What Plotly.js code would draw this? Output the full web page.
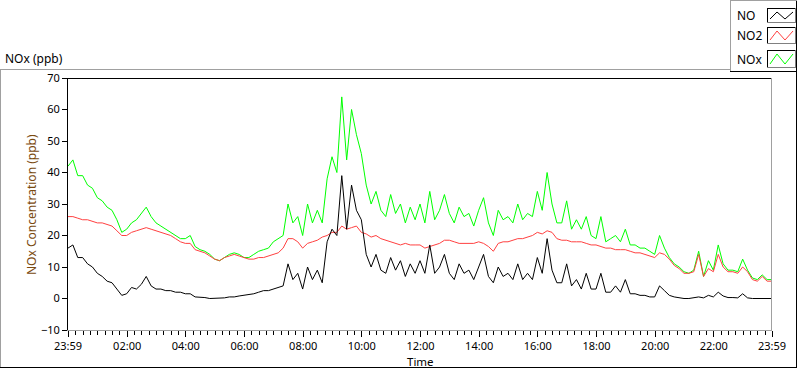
<!DOCTYPE html>
<html>
<head>
<meta charset="utf-8">
<script src="https://cdn.plot.ly/plotly-3.0.1.min.js"></script>
<style>
html,body{margin:0;padding:0;background:#fff;}
#chart{width:800px;height:369px;}
</style>
</head>
<body>
<div id="chart"></div>
<script>
// ---- data (10-minute samples starting at 23:59) ----
const sampleStepMinutes = 10;
const tickLabels = ["23:59","02:00","04:00","06:00","08:00","10:00","12:00","14:00","16:00","18:00","20:00","22:00","23:59"];
const tickMinutes = [0,121,241,361,481,601,721,841,961,1081,1201,1321,1440];

const noValues = [
  16,17,13,13,11,10,8,7,5.5,5,3,1,1.5,3.5,3,4.5,7,4,3,3,2.5,2.5,2,2,1.5,
  1.5,0.5,0.5,0.3,0,0,0,0.2,0.5,0.5,0.8,1,1.2,1.5,2,2.5,2.5,3,3.5,4,11,6,8,3,
  10,6,9,5,18,22,20,39,22,36,28,25,14,10,14,9,8,13,9,12,7,11,8,12,
  8,17,8,10,14,8,6,11,8,9,6,10,14,7,5,10,7,8,6,11,6,8,6,13,
  8,19,9,5,5,11,4,6,3,8,3,3,8,2,2,4,2,6,1.5,1.5,1,1,0.5,0.5,
  4,2.5,1,0.5,0.2,0,0,0.2,0.5,0.2,1,0.5,2,0.8,0.3,0.3,0.2,1.5,0.2,0,0,0.2,0,0
];
const no2Values = [
  26,26,25.5,25,25,24.5,24,24,23.5,23,21.5,20,20,21,21.5,22,22.5,22,21.5,21,20.5,20,19,18,17.5,
  17.5,15.5,15,14.5,13.5,12.5,12,13,13.5,14,13.5,13,12.5,12.5,13,13,13.5,14,14.5,16,19,19,18,16,
  17.5,18,18.5,19.5,20,21,21,23,22,22.5,23,21,20.5,19.5,20,19,18.5,18,17.5,17,17.5,17,17,17,
  16,16.5,17,17.5,18.5,18.5,18,17.5,17.5,17.5,17.5,18,17.5,16.5,15,17.5,18,18,18.5,19,19,19.5,20,21,
  20.5,21.5,21,19,18.5,18.5,18,18,18,17.5,17,17,16.5,16,16,15.5,15.5,15.5,15,14.5,14.5,14,13.5,13,
  14.5,14,12.5,10.5,9.5,8,8,8.5,14,7,9.5,8.5,14,10,8.5,8.5,8,10,8.5,6,5.5,7,5.5,5.5
];
const noxValues = [
  42,44,39,39,36,35,32,31,29,28,25,21,22,24,25,27,29,26,24,23,22,21,20,19,19,
  20,16.5,15.5,15,14,12.5,12,13,14,14.5,14,13,13,14,15,15.5,16,18,19,20,30,24,26,20,
  30,24,28,24,38,45,40,64,44,60,52,46,36,30,34,28,26,33,27,30,24,29,25,30,
  24,34,25,28,33,27,24,29,26,27,23,28,32,24,20,28,25,26,24,30,25,27,26,34,
  28,40,30,24,24,31,22,25,22,26,20,19,26,18,19,20,18,22,17,17,16,16,15,14,
  20,16,13,11,10,8.5,8,9,15,7,12,9,17,11,9,9,8.5,12.5,9,6.5,6,7.5,6,6
];
const seriesNames = ["NO","NO2","NOx"];
const seriesColors = ["#000000","#ff4040","#00ff00"];

const minutes = noValues.map((_, i) => i * sampleStepMinutes);

// ---- pixel helpers for decorations (plot area: x 68..772, y 78..330) ----
const PL = 68, PR = 772, PT = 78, PB = 330;
const X = px => (px - PL) / (PR - PL);
const Y = py => (PB - py) / (PB - PT);
const FONT = "Noto Sans, Open Sans, sans-serif";

const traces = [
  {x: minutes, y: noxValues, name: seriesNames[2], type: "scatter", mode: "lines", line: {color: seriesColors[2], width: 1}},
  {x: minutes, y: no2Values, name: seriesNames[1], type: "scatter", mode: "lines", line: {color: seriesColors[1], width: 1}},
  {x: minutes, y: noValues, name: seriesNames[0], type: "scatter", mode: "lines", line: {color: seriesColors[0], width: 1}}
];

function hline(x0, x1, y, color) {
  return {type: "line", xref: "paper", yref: "paper", x0: X(x0), x1: X(x1), y0: Y(y), y1: Y(y), line: {color: color, width: 1}, layer: "above"};
}
function vline(x, y0, y1, color) {
  return {type: "line", xref: "paper", yref: "paper", x0: X(x), x1: X(x), y0: Y(y0), y1: Y(y1), line: {color: color, width: 1}, layer: "above"};
}

const shapes = [
  // panel frame
  hline(0, 730, 69.5, "#a0a0a0"),
  vline(0.5, 69, 368, "#a0a0a0"),
  hline(0, 797, 367.5, "#000000"),
  vline(796.5, 0, 368, "#000000"),
  // legend box
  vline(730.5, 0, 72, "#a0a0a0"),
  hline(730, 797, 0.5, "#a0a0a0"),
  hline(730, 797, 71.5, "#000000"),
  // plot frame: top black, right gray
  hline(PL, PR, PT + 0.5, "#000000"),
  vline(PR - 0.5, PT, PB, "#a0a0a0")
];

const annotations = [
  {text: "NOx (ppb)", xref: "paper", yref: "paper", x: X(4), y: Y(58), xanchor: "left", yanchor: "middle", showarrow: false, borderpad: 0, font: {family: FONT, size: 12, color: "#000"}},
  {text: "NOx Concentration (ppb)", xref: "paper", yref: "paper", x: X(31), y: Y(205), xanchor: "center", yanchor: "middle", textangle: -90, showarrow: false, borderpad: 0, font: {family: FONT, size: 12, color: "#7a4a10"}},
  {text: "Time", xref: "paper", yref: "paper", x: X(420), y: Y(361.5), xanchor: "center", yanchor: "middle", showarrow: false, borderpad: 0, font: {family: FONT, size: 11.5, color: "#000"}}
];

// custom legend (text left, swatch right)
const boxTops = [8, 27, 50];
const boxH = [15, 17, 18];
seriesNames.forEach((name, k) => {
  const top = boxTops[k], bot = top + boxH[k];
  const mid = (top + bot) / 2;
  annotations.push({text: name, xref: "paper", yref: "paper", x: X(736), y: Y(mid), xanchor: "left", yanchor: "middle", showarrow: false, borderpad: 0, font: {family: FONT, size: 12, color: "#000"}});
  shapes.push(hline(767, 796, top + 0.5, "#000000"));
  shapes.push(vline(767.5, top, bot, "#000000"));
  shapes.push(hline(767, 796, bot - 0.5, "#808080"));
  shapes.push(vline(795.5, top, bot, "#808080"));
  const lo = bot - 4, hi = top + 4;
  const pts = [[770, lo], [777, hi], [785, lo], [793, hi]];
  const path = "M" + pts.map(p => X(p[0]) + "," + Y(p[1])).join(" L");
  shapes.push({type: "path", xref: "paper", yref: "paper", path: path, line: {color: seriesColors[k], width: 1}, layer: "above"});
});

const layout = {
  width: 800, height: 369,
  margin: {l: PL, r: 800 - PR, t: PT, b: 369 - PB, pad: 0},
  paper_bgcolor: "#ffffff", plot_bgcolor: "#ffffff",
  showlegend: false,
  font: {family: FONT, size: 11, color: "#000"},
  xaxis: {
    range: [0, 1440], showgrid: false, zeroline: false,
    showline: true, linecolor: "#a0a0a0", linewidth: 1,
    tickmode: "array", tickvals: tickMinutes, ticktext: tickLabels,
    ticks: "outside", ticklen: 6, tickcolor: "#000", tickwidth: 1,
    tickfont: {family: FONT, size: 11, color: "#000"},
    minor: {ticks: "outside", ticklen: 4, tickcolor: "#000", tick0: 1, dtick: 15, showgrid: false},
    fixedrange: true
  },
  yaxis: {
    range: [-10, 70], dtick: 10, tick0: 0, showgrid: false, zeroline: false,
    showline: true, linecolor: "#000", linewidth: 1,
    ticks: "outside", ticklen: 5, tickcolor: "#000",
    tickfont: {family: FONT, size: 11, color: "#000"},
    fixedrange: true
  },
  shapes: shapes,
  annotations: annotations
};

Plotly.newPlot("chart", traces, layout, {displayModeBar: false, staticPlot: true});
</script>
</body>
</html>
